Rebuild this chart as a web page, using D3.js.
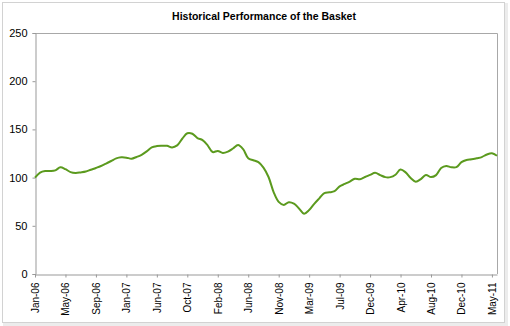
<!DOCTYPE html>
<html>
<head>
<meta charset="utf-8">
<script src="https://cdn.jsdelivr.net/npm/d3@7"></script>
<style>
  html, body { margin: 0; padding: 0; background: #ffffff; }
  svg { display: block; }
</style>
</head>
<body>
<script>
// Basket index level, sampled at regular intervals (6 samples per labelled tick)
const basketValues = [
  100, 105.2, 106.8, 106.8, 107.5, 110.7, 108.7, 105.7, 104.8, 105.4,
  106.3, 108.2, 110, 112, 114.6, 117.2, 119.9, 121, 120.7, 119.6,
  121.4, 123.7, 127.2, 131.4, 132.7, 133, 133, 131.3, 133.4, 140.3,
  146, 145.5, 141, 138.8, 133.5, 126.5, 127.7, 125.6, 127, 130.2,
  133.8, 129.5, 120, 118, 116, 110.4, 100.6, 85, 74.8, 71.7,
  74.5, 73, 68, 62.5, 66.3, 72.8, 78.5, 84, 84.7, 85.9,
  90.9, 93.4, 95.9, 98.8, 98.2, 100.6, 102.8, 105, 102.6, 100.5,
  100.5, 103, 108.3, 105.4, 99.5, 95.7, 98.5, 102.7, 100.5, 102.6,
  110, 112.1, 110.8, 110.9, 116, 118.2, 119, 120.1, 121.3, 124,
  125.3, 122.7
];

// Category labels shown on the x axis, one every 6 samples
const tickLabels = [
  "Jan-06", "May-06", "Sep-06", "Jan-07", "Jun-07", "Oct-07", "Feb-08", "Jun-08",
  "Nov-08", "Mar-09", "Jul-09", "Dec-09", "Apr-10", "Aug-10", "Dec-10", "May-11"
];
const samplesPerTick = 6;

// Value axis ticks
const yTicks = [0, 50, 100, 150, 200, 250];

const chartTitle = "Historical Performance of the Basket";

const W = 510, H = 326;
const plot = { left: 35, right: 497, top: 33, bottom: 274 };

const svg = d3.select("body").append("svg")
  .attr("width", W).attr("height", H);

// Chart frame
svg.append("rect")
  .attr("x", 0).attr("y", 0).attr("width", W).attr("height", H)
  .attr("fill", "#ffffff");
svg.append("rect")
  .attr("x", 2.5).attr("y", 2.5).attr("width", 502).attr("height", 320)
  .attr("fill", "none").attr("stroke", "#d2d2d2");
svg.append("rect")
  .attr("x", 3).attr("y", 323).attr("width", 503).attr("height", 3)
  .attr("fill", "#ececec");
svg.append("rect")
  .attr("x", 505).attr("y", 3).attr("width", 3).attr("height", 323)
  .attr("fill", "#ececec");

const x = d3.scaleLinear()
  .domain([0, basketValues.length - 1])
  .range([plot.left, plot.right]);

const y = d3.scaleLinear()
  .domain([0, 250])
  .range([plot.bottom, plot.top]);

// Plot area border (top and right)
svg.append("path")
  .attr("d", `M${plot.left},${plot.top + 0.5}H${plot.right + 0.5}V${plot.bottom}`)
  .attr("fill", "none")
  .attr("stroke", "#a8a8a8")
  .attr("stroke-width", 1);

// Title
svg.append("text")
  .attr("x", 264).attr("y", 20)
  .attr("text-anchor", "middle")
  .attr("font-family", "Liberation Sans, Arial, sans-serif")
  .attr("font-size", 10.5)
  .attr("font-weight", "bold")
  .attr("fill", "#000")
  .text(chartTitle);

// Y axis
const yAxis = d3.axisLeft(y)
  .tickValues(yTicks)
  .tickSize(3)
  .tickPadding(5)
  .tickFormat(d3.format("d"));

const gy = svg.append("g")
  .attr("transform", `translate(${plot.left + 0.5},0)`)
  .call(yAxis);
gy.select(".domain").attr("stroke", "#999999");
gy.selectAll(".tick line").attr("stroke", "#999999");
gy.selectAll(".tick text")
  .attr("font-family", "Liberation Sans, Arial, sans-serif")
  .attr("font-size", 11)
  .attr("fill", "#000");

// X axis: category labels every 6 samples
const tickIdx = tickLabels.map((_, i) => i * samplesPerTick);
const xAxis = d3.axisBottom(x)
  .tickValues(tickIdx)
  .tickSize(3)
  .tickSizeOuter(0)
  .tickFormat((d, i) => tickLabels[i]);

const gx = svg.append("g")
  .attr("transform", `translate(0,${plot.bottom + 0.5})`)
  .call(xAxis);
gx.select(".domain").attr("stroke", "#999999");
gx.selectAll(".tick line").attr("stroke", "#999999");
gx.selectAll(".tick text")
  .attr("font-family", "Liberation Sans, Arial, sans-serif")
  .attr("font-size", 10)
  .attr("fill", "#000")
  .attr("text-anchor", "end")
  .attr("transform", "rotate(-90)")
  .attr("x", -8)
  .attr("y", 0)
  .attr("dy", "0.35em");

// Basket line
const line = d3.line()
  .x((d, i) => x(i))
  .y(d => y(d))
  .curve(d3.curveCatmullRom.alpha(0.5));

svg.append("path")
  .datum(basketValues)
  .attr("d", line)
  .attr("fill", "none")
  .attr("stroke", "#5b9a1e")
  .attr("stroke-width", 2)
  .attr("stroke-linejoin", "round");
</script>
</body>
</html>
